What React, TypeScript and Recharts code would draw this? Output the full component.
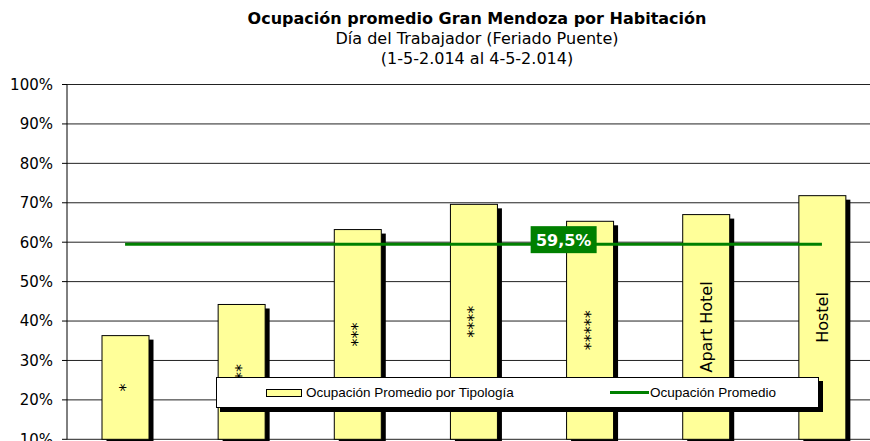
import React from 'react';
import {
  ComposedChart, Bar, Line, XAxis, YAxis, CartesianGrid, Legend, LabelList,
} from 'recharts';

const categories = ['*', '**', '***', '****', '*****', 'Apart Hotel', 'Hostel'];
const occupancy = [0.363, 0.442, 0.632, 0.696, 0.653, 0.670, 0.718];
const average = 0.595;
const yTicks = [0.1, 0.2, 0.3, 0.4, 0.5, 0.6, 0.7, 0.8, 0.9, 1];

const data = categories.map((name, i) => ({
  name,
  tipologia: occupancy[i],
  promedio: average,
}));

const FONT = '"DejaVu Sans", Verdana, sans-serif';
const GREEN = '#008000';

// bar with a hard black drop shadow, like the Excel original
const ShadowBar = (props: any) => {
  const { x, y, width, height } = props;
  if (height <= 0) return null;
  return (
    <g>
      <rect x={x + 4.5} y={y + 4} width={width} height={height} fill="#000" />
      <rect x={x} y={y} width={width} height={height} fill="#FFFF99" stroke="#000" strokeWidth={1} />
    </g>
  );
};

// category name written vertically inside the bar
const InsideLabel = (props: any) => {
  const { x, y, width, height, value } = props;
  const cx = x + width / 2;
  const cy = y + height / 2;
  return (
    <text
      x={cx}
      y={cy}
      transform={`rotate(-90 ${cx} ${cy})`}
      textAnchor="middle"
      dominantBaseline="central"
      fontFamily={FONT}
      fontSize={16}
      fill="#000"
    >
      {value}
    </text>
  );
};

// the "59,5%" box sits on the fifth point of the average line
const AverageLabel = (props: any) => {
  const { x, y, index, value } = props;
  if (index !== 4) return null;
  return (
    <g>
      <rect x={x - 59} y={y - 18} width={66} height={27} fill={GREEN} />
      <text
        x={x - 26}
        y={y - 4}
        textAnchor="middle"
        dominantBaseline="central"
        fontFamily={FONT}
        fontWeight="bold"
        fontSize={16}
        fill="#fff"
      >
        {(value * 100).toFixed(1).replace('.', ',')}%
      </text>
    </g>
  );
};

const LegendBox = ({ payload }: any) => {
  const items = [...(payload || [])].sort(
    (a: any, b: any) => (a.type === 'line' ? 1 : 0) - (b.type === 'line' ? 1 : 0),
  );
  return (
    <div style={{
      width: 603,
      height: 31,
      boxSizing: 'border-box',
      background: '#fff',
      border: '1px solid #000',
      boxShadow: '4px 4px 0 #000',
      display: 'flex',
      alignItems: 'center',
      fontFamily: '"Liberation Sans", Arial, sans-serif',
      fontSize: 13.5,
      color: '#000',
      whiteSpace: 'nowrap',
    }}>
      {items.map((p: any, i: number) => (
        <div key={p.value} style={{
          display: 'flex',
          alignItems: 'center',
          marginLeft: i === 0 ? 49 : 0,
          width: i === 0 ? 344 : 'auto',
          flexShrink: 0,
        }}>
          {p.type === 'line' ? (
            <span style={{ display: 'inline-block', width: 39, height: 3, background: GREEN, marginRight: 1 }} />
          ) : (
            <span style={{ display: 'inline-block', width: 34, height: 6, background: '#FFFF99', border: '1px solid #000', marginRight: 4 }} />
          )}
          <span>{p.value}</span>
        </div>
      ))}
    </div>
  );
};

export default function App() {
  return (
    <div style={{
      position: 'absolute', left: 0, top: 0, width: 870, height: 441,
      overflow: 'hidden', background: '#fff',
    }}>
      <div style={{
        position: 'absolute', left: 77, top: 9, width: 800,
        textAlign: 'center', fontFamily: FONT, fontSize: 16, lineHeight: '20px', color: '#000',
      }}>
        <div style={{ fontWeight: 'bold' }}>Ocupación promedio Gran Mendoza por Habitación</div>
        <div>Día del Trabajador (Feriado Puente)</div>
        <div>(1-5-2.014 al 4-5-2.014)</div>
      </div>
      <ComposedChart
        width={880}
        height={491}
        data={data}
        margin={{ top: 84.5, right: 0, bottom: 20.7, left: 0 }}
        barCategoryGap={0}
      >
        <CartesianGrid vertical={false} stroke="#222" strokeWidth={1} />
        <XAxis dataKey="name" hide />
        <YAxis
          domain={[0.1, 1]}
          ticks={yTicks}
          width={67}
          tickFormatter={(v: number) => `${Math.round(v * 100)}%`}
          tick={{ fontFamily: FONT, fontSize: 15, fill: '#000' }}
          axisLine={{ stroke: '#000' }}
          tickLine={{ stroke: '#000' }}
          tickSize={5}
          tickMargin={9}
          interval={0}
        />
        <Legend
          content={<LegendBox />}
          wrapperStyle={{ position: 'absolute', left: 216, top: 377, width: 603, height: 31 }}
        />
        <Bar
          dataKey="tipologia"
          name="Ocupación Promedio por Tipología"
          barSize={47}
          shape={<ShadowBar />}
          isAnimationActive={false}
          legendType="rect"
        >
          <LabelList dataKey="name" content={<InsideLabel />} />
        </Bar>
        <Line
          dataKey="promedio"
          name="Ocupación Promedio"
          type="linear"
          stroke={GREEN}
          strokeWidth={3}
          dot={false}
          activeDot={false}
          isAnimationActive={false}
          legendType="line"
        >
          <LabelList dataKey="promedio" content={<AverageLabel />} />
        </Line>
      </ComposedChart>
    </div>
  );
}
